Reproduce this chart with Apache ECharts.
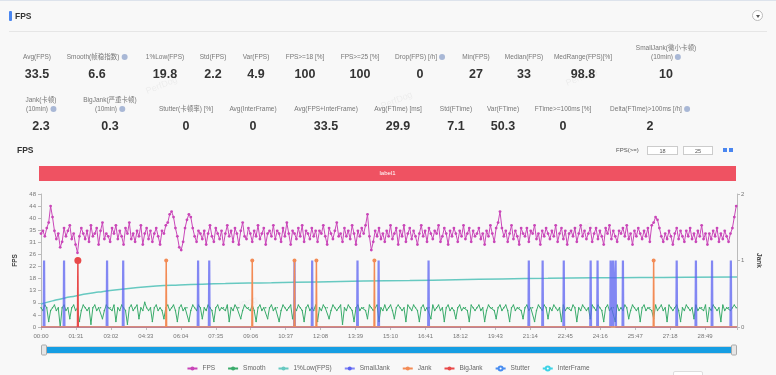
<!DOCTYPE html>
<html><head><meta charset="utf-8">
<script src="https://cdn.jsdelivr.net/npm/echarts/dist/echarts.min.js"></script>
<style>
html,body{margin:0;padding:0;width:776px;height:375px;overflow:hidden;background:#f8f8f8;font-family:"Liberation Sans",Arial,"Noto Sans CJK SC",sans-serif;}
#chart{position:absolute;left:0;top:0;width:776px;height:375px;}
.ov{position:absolute;z-index:2;white-space:nowrap;}
.lbl{font-size:6.5px;color:#777;text-align:center;transform:translate(-50%,-100%);line-height:9px;}
.val{font-size:12.5px;font-weight:bold;color:#333;transform:translate(-50%,-50%);}
.info{display:inline-block;width:6px;height:6px;border-radius:50%;background:#a9b8d6;vertical-align:-1px;margin-left:2px;}
.wm{font-size:9px;color:rgba(0,0,0,0.05);transform:rotate(-22deg);}
</style></head><body>
<div id="chart"></div>
<div id="ui"></div>
<script>
// ---------- data ----------
const statLabels1 = ['Avg(FPS)','Smooth(帧稳指数)','1%Low(FPS)','Std(FPS)','Var(FPS)','FPS>=18 [%]','FPS>=25 [%]','Drop(FPS) [/h]','Min(FPS)','Median(FPS)','MedRange(FPS)[%]','SmallJank(微小卡顿)<br>(10min)'];
const statValues1 = ['33.5','6.6','19.8','2.2','4.9','100','100','0','27','33','98.8','10'];
const statInfo1 = [0,1,0,0,0,0,0,1,0,0,0,1];
const statLabels2 = ['Jank(卡顿)<br>(10min)','BigJank(严重卡顿)<br>(10min)','Stutter(卡顿率) [%]','Avg(InterFrame)','Avg(FPS+InterFrame)','Avg(FTime) [ms]','Std(FTime)','Var(FTime)','FTime>=100ms [%]','Delta(FTime)>100ms [/h]'];
const statValues2 = ['2.3','0.3','0','0','33.5','29.9','7.1','50.3','0','2'];
const statInfo2 = [1,1,0,0,0,0,0,0,0,1];

const seriesNames = ['FPS','Smooth','1%Low(FPS)','SmallJank','Jank','BigJank','Stutter','InterFrame'];
const labelSegments = [{name:'label1', start:0, end:1812}];
const timeMax = 1812;       // seconds
const sampleStep = 5;       // seconds between samples

const fpsValues = [
34,35,33,36,38,44,40,35,32,34,29,31,
36,33,35,37,32,34,30,27,33,36,34,32,
35,31,37,33,34,36,30,35,38,32,34,33,
31,36,34,37,32,35,33,30,36,34,38,32,
34,31,35,33,37,30,34,36,32,35,31,34,
36,33,30,35,34,37,38,41,42,40,36,33,
29,28,31,36,39,41,40,36,33,31,35,34,
32,35,30,34,37,33,31,36,34,32,35,30,
34,37,33,35,31,36,34,30,35,38,33,32,
36,34,31,35,33,37,32,34,36,30,34,35,
33,37,32,35,34,31,36,33,38,34,30,35,
34,32,36,33,37,31,35,34,32,36,33,35,
31,35,34,37,33,30,36,34,32,35,38,33,
34,31,36,33,35,32,37,34,30,35,33,36,
34,37,41,33,28,31,35,33,36,32,34,31,
35,33,37,32,34,36,30,35,33,37,31,34,
36,32,35,33,30,34,37,33,35,31,36,34,
32,35,34,37,31,33,36,34,30,35,33,36,
34,31,35,33,37,32,34,36,31,35,33,34,
36,32,34,30,35,33,37,34,31,36,38,42,
36,33,35,31,34,37,32,35,33,30,36,34,
33,36,31,35,34,37,32,34,30,35,33,36,
34,32,35,33,37,31,34,36,32,35,30,34,
35,33,36,31,34,37,33,35,32,34,36,31,
34,36,32,35,33,30,36,34,37,32,35,33,
31,35,34,36,33,37,32,34,30,35,33,36,
34,32,35,33,36,31,37,38,40,39,36,33,
31,34,32,35,33,30,34,36,32,35,33,31,
35,33,36,32,34,31,35,33,37,32,34,30,
34,32,35,33,36,31,34,32,35,33,31,34,
36,40,44];

const smoothValues = [
7,6,8,7,2,6,7,8,6,7,0,7,
8,6,7,3,7,8,6,7,2,6,8,7,
6,7,1,7,8,6,7,7,3,6,8,7,
7,6,8,2,7,6,8,7,6,1,7,8,
6,7,8,3,7,6,9,7,6,7,2,7,
8,6,7,6,3,7,8,6,7,8,6,2,
7,8,6,7,7,2,6,8,7,6,8,7,
3,7,6,8,7,6,2,7,8,6,7,7,
6,8,2,7,6,8,7,7,3,6,8,7,
7,6,8,6,2,7,8,6,7,7,3,7,
8,6,7,7,2,6,8,7,6,7,8,3,
7,6,8,7,6,2,7,8,6,7,6,8,
2,7,6,8,7,7,3,6,8,7,6,7,
8,1,7,6,8,7,6,2,7,8,6,7,
7,6,3,8,7,6,7,8,2,7,6,8,
6,7,8,6,3,7,8,7,6,7,2,8,
7,6,8,7,6,2,7,8,6,7,7,3,
8,6,7,8,6,7,2,7,8,6,7,6,
3,7,8,6,7,7,6,2,8,7,6,7,
8,6,7,2,6,8,7,7,6,3,7,8,
6,7,8,6,2,7,8,6,7,7,6,3,
7,8,6,7,7,2,6,8,7,6,8,7,
3,7,6,8,7,6,7,2,8,6,7,7,
6,8,7,2,7,6,8,7,6,7,3,8,
7,6,8,7,6,2,7,8,6,7,7,2,
8,6,7,6,8,7,3,6,8,7,6,7,
2,7,8,6,7,7,6,3,8,6,7,8,
6,7,2,8,7,6,7,8,6,2,7,6,
8,7,6,7,3,8,6,7,7,6,8,2,
7,6,8,7,6,7,2,8,6,7,7,6,
7,8,7];

const lowTimes  = [0,30,60,90,120,150,180,240,300,360,420,480,540,600,720,840,960,1080,1200,1320,1440,1560,1680,1812];
const lowValues = [8.4,9.5,10.5,11.3,12.1,12.7,13.3,14.2,14.9,15.3,15.6,15.8,16.0,16.1,16.4,16.7,16.9,17.2,17.5,17.7,17.9,18.0,18.1,18.2];

const smallJankTimes = [8,60,172,214,409,438,660,706,824,879,1009,1270,1306,1361,1431,1449,1483,1489,1496,1515,1655,1705,1747,1796];
const jankTimes = [326,550,660,717,868,1595];
const bigJankTimes = [96];

// ---------- helpers ----------
function mmss(v){v=Math.round(v);const m=Math.floor(v/60),s=v%60;return String(m).padStart(2,'0')+':'+String(s).padStart(2,'0');}
function pairs(vals){return vals.map((v,i)=>[i*sampleStep,v]);}
function spikes(times,full){const d=full?[[0,0]]:[];times.forEach(t=>{d.push([t-1,0],[t,1],[t+1,0]);});if(full)d.push([timeMax,0]);return d;}

// ---------- HTML part (header + stats) ----------
const ui=document.getElementById('ui');
function add(html,cls,x,y,extra){const d=document.createElement('div');d.className='ov '+cls;d.style.left=x+'px';d.style.top=y+'px';if(extra)Object.assign(d.style,extra);d.innerHTML=html;ui.appendChild(d);return d;}
const info='<span class="info"></span>';
const x1=[37,97,165,213,256,305,360,420,476,524,583,666];
statLabels1.forEach((l,i)=>{add(l+(statInfo1[i]?info:''),'lbl',x1[i],60.5);add(statValues1[i],'val',x1[i],74);});
const x2=[41,110,186,253,326,398,456,503,563,650];
statLabels2.forEach((l,i)=>{add(l+(statInfo2[i]?info:''),'lbl',x2[i],112.5);add(statValues2[i],'val',x2[i],126);});
// header
add('','',0,0,{width:'776px',height:'1px',background:'#dde3ec'});
add('','',9,11,{width:'2.5px',height:'10px',background:'#4a86f0',borderRadius:'1px'});
add('FPS','',15,10.5,{fontSize:'8.5px',fontWeight:'bold',color:'#333'});
add('','',9,31,{width:'758px',height:'1px',background:'#e6e6e6'});
add('<div style="position:absolute;left:3px;top:4.5px;width:0;height:0;border-left:2.5px solid transparent;border-right:2.5px solid transparent;border-top:3px solid #555"></div>','',752,9.5,{width:'11px',height:'11px',border:'1px solid #bbb',borderRadius:'50%',background:'#fff',boxSizing:'border-box'});
// chart header
add('FPS','',17,145,{fontSize:'8.5px',fontWeight:'bold',color:'#333'});
add('FPS(>=)','',616,146.5,{fontSize:'6px',color:'#555'});
add('18','',647,146,{width:'31px',height:'9px',border:'1px solid #ccc',background:'#fff',fontSize:'5.5px',color:'#555',textAlign:'center',lineHeight:'9px',boxSizing:'border-box'});
add('25','',683,146,{width:'30px',height:'9px',border:'1px solid #ccc',background:'#fff',fontSize:'5.5px',color:'#555',textAlign:'center',lineHeight:'9px',boxSizing:'border-box'});
add('','',723,148,{width:'4px',height:'4px',background:'#4a86f0'});
add('','',729,148,{width:'4px',height:'4px',background:'#4a86f0'});
add('','',673,371,{width:'30px',height:'8px',border:'1px solid #ddd',borderRadius:'2px',background:'#fff',boxSizing:'border-box'});
// watermarks
[[145,80],[380,95],[565,72],[225,300],[560,225]].forEach(p=>add('PerfDog','wm',p[0],p[1]));

// ---------- chart ----------
const chart=echarts.init(document.getElementById('chart'),null,{renderer:'canvas'});
const axisGrey='#bbb';
const option={
  animation:false,
  backgroundColor:'transparent',
  grid:[{left:41,right:39,top:194,bottom:48},{left:39,right:40,top:166,height:15}],
  xAxis:[
    {type:'value',gridIndex:0,min:0,max:timeMax,interval:91,
     axisLine:{show:true,lineStyle:{color:axisGrey}},axisTick:{show:true,length:3,lineStyle:{color:axisGrey}},
     splitLine:{show:false},showMaxLabel:false,
     axisLabel:{fontSize:6,color:'#777',margin:6,formatter:v=>(Math.round(v)%91===0?mmss(v):'')}},
    {type:'value',gridIndex:1,min:0,max:timeMax,show:false}
  ],
  yAxis:[
    {type:'value',gridIndex:0,min:0,max:48.4,interval:4.4,name:'FPS',nameLocation:'middle',nameGap:20,
     nameTextStyle:{fontSize:6.5,fontWeight:'bold',color:'#444'},
     axisLine:{show:true,lineStyle:{color:axisGrey}},axisTick:{show:true,length:3,lineStyle:{color:axisGrey}},
     splitLine:{show:false},axisLabel:{fontSize:6,color:'#777',margin:5,formatter:v=>String(Math.round(v))}},
    {type:'value',gridIndex:0,min:0,max:2,interval:1,position:'right',name:'Jank',nameLocation:'middle',nameRotate:-90,nameGap:15,
     nameTextStyle:{fontSize:6.5,fontWeight:'bold',color:'#444'},
     axisLine:{show:true,lineStyle:{color:axisGrey}},axisTick:{show:true,length:3,lineStyle:{color:axisGrey}},
     splitLine:{show:false},axisLabel:{fontSize:6,color:'#777',margin:4}},
    {type:'value',gridIndex:1,min:0,max:1,show:false}
  ],
  legend:{data:seriesNames,left:'center',top:360,itemWidth:10,itemHeight:5,itemGap:12,
    textStyle:{fontSize:6.5,color:'#666'}},
  dataZoom:[{type:'slider',xAxisIndex:[0,1],filterMode:'none',start:0,end:100,left:42,right:42,top:346,height:8,
    showDetail:false,showDataShadow:false,brushSelect:false,moveHandleSize:0,
    backgroundColor:'#e8e8e8',fillerColor:'#169ee3',borderColor:'#d5d5d5',
    handleIcon:'path://M2,0 h6 a2,2 0 0 1 2,2 v16 a2,2 0 0 1 -2,2 h-6 a2,2 0 0 1 -2,-2 v-16 a2,2 0 0 1 2,-2 Z',
    handleSize:'125%',handleStyle:{color:'#e6e6e6',borderColor:'#aaa'}}],
  series:[
    {name:'FPS',type:'line',xAxisIndex:0,yAxisIndex:0,data:pairs(fpsValues),color:'#c946b8',
     lineStyle:{width:1},symbol:'circle',symbolSize:2.8,showSymbol:true,z:3},
    {name:'Smooth',type:'line',xAxisIndex:0,yAxisIndex:0,data:pairs(smoothValues),color:'#3aab6b',
     lineStyle:{width:1},symbol:'circle',symbolSize:1.5,z:3},
    {name:'1%Low(FPS)',type:'line',xAxisIndex:0,yAxisIndex:0,data:lowTimes.map((t,i)=>[t,lowValues[i]]),color:'#67c9c1',
     smooth:true,lineStyle:{width:1.5},symbol:'circle',showSymbol:false,z:3},
    {name:'SmallJank',type:'line',xAxisIndex:0,yAxisIndex:1,data:spikes(smallJankTimes,true),color:'#5b62f2',
     lineStyle:{width:2.2,opacity:0.75},symbol:'circle',symbolSize:0,showSymbol:true,z:4},
    {name:'Jank',type:'line',xAxisIndex:0,yAxisIndex:1,data:spikes(jankTimes,true),color:'#f38b55',
     lineStyle:{width:1.5},symbol:'circle',symbolSize:v=>(v[1]>0?4:0),z:5},
    {name:'BigJank',type:'line',xAxisIndex:0,yAxisIndex:1,data:spikes(bigJankTimes,false),color:'#e84a4a',
     lineStyle:{width:1.5},symbol:'circle',symbolSize:v=>(v[1]>0?7:0),z:6},
    {name:'Stutter',type:'line',xAxisIndex:0,yAxisIndex:1,data:[],color:'#4a8ef0'},
    {name:'InterFrame',type:'line',xAxisIndex:0,yAxisIndex:1,data:[],color:'#3fd3e6'},
    {name:'label',type:'line',xAxisIndex:1,yAxisIndex:2,data:[],silent:true,
     markArea:{silent:true,itemStyle:{color:'#ef5262'},
       label:{show:true,position:'inside',color:'#fff',fontSize:6},
       data:labelSegments.map(s=>[{name:s.name,xAxis:s.start},{xAxis:s.end}])}}
  ]
};
chart.setOption(option);
</script>
</body></html>
